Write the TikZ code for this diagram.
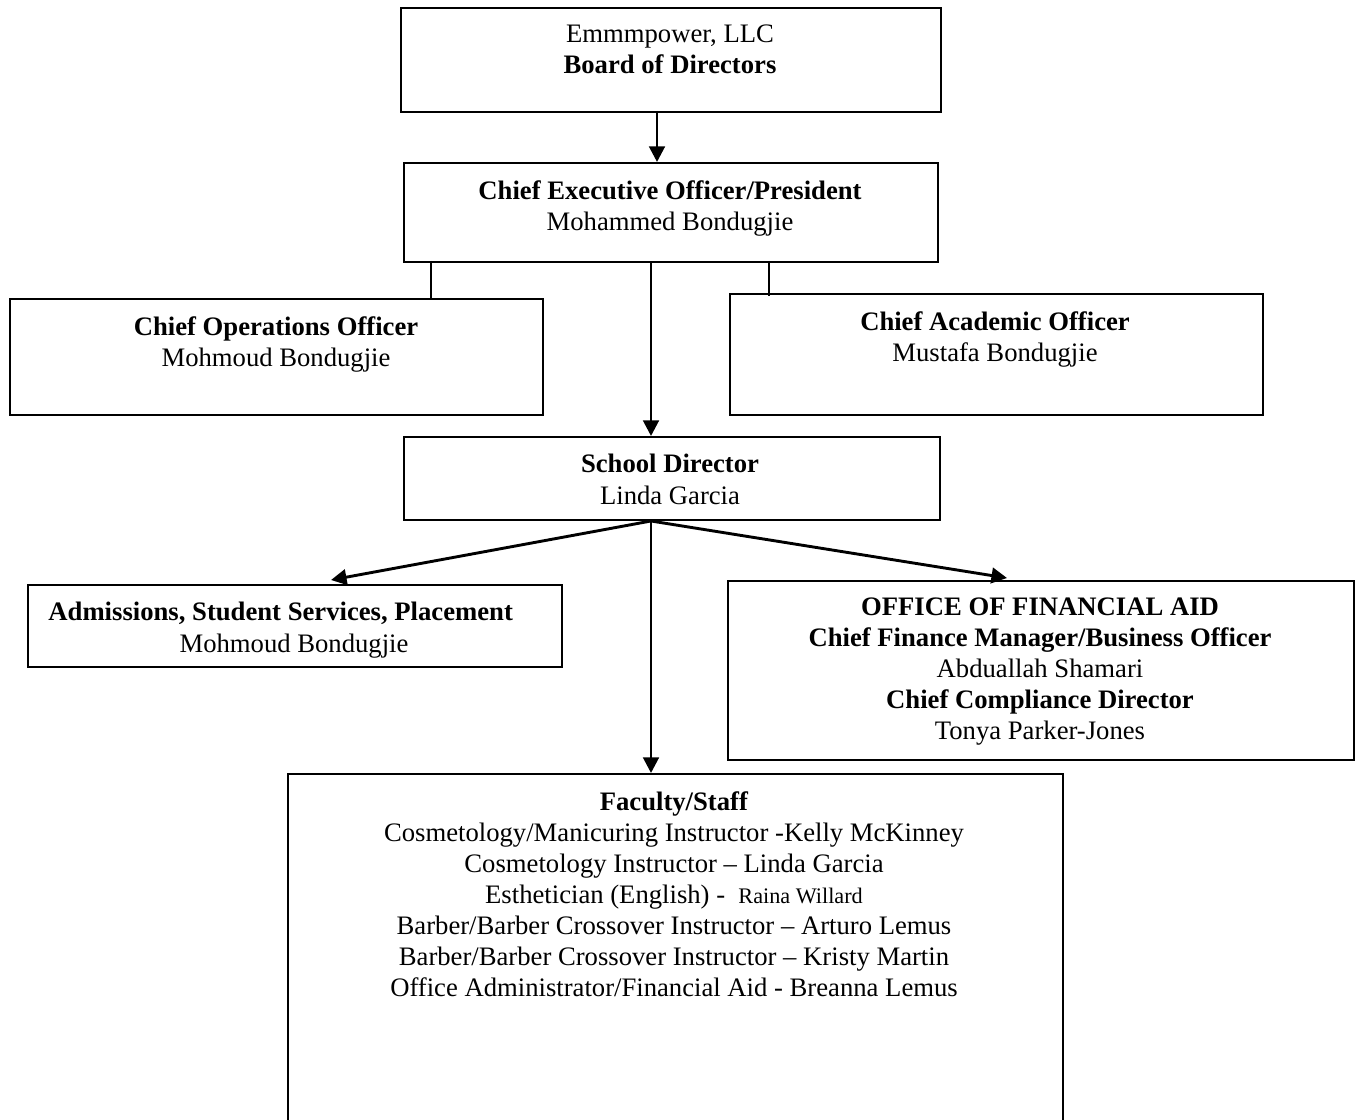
\documentclass[tikz,border=0pt]{standalone}
\usepackage{fontspec}
\setmainfont{Liberation Serif}
\usetikzlibrary{arrows.meta,positioning,calc}
\newdimen\px \px=0.45pt

\tikzset{
  box/.style={draw, line width=0.8pt, anchor=north west, inner sep=0pt},
  txt/.style={anchor=north, align=center, inner sep=0pt, font=\fontsize{12}{14}\selectfont},
  link/.style={line width=1.3pt},
  tap/.style={line width=0.7pt}
}

\begin{document}
\begin{tikzpicture}[x=0.45pt, y=-0.45pt, >={Triangle[length=7pt,width=7pt]}]
  \useasboundingbox (0,0) rectangle (1358,1120);

  % boxes
  \node[box, minimum width=540\px, minimum height=104\px] (board) at (400,7) {};
  \node[box, minimum width=534\px, minimum height=99\px] (ceo) at (403,162) {};
  \node[box, minimum width=533\px, minimum height=116\px] (coo) at (9,298) {};
  \node[box, minimum width=533\px, minimum height=121\px] (cao) at (729,293) {};
  \node[box, minimum width=536\px, minimum height=83\px] (sd) at (403,436) {};
  \node[box, minimum width=534\px, minimum height=82\px] (adm) at (27,584) {};
  \node[box, minimum width=626\px, minimum height=179\px] (fin) at (727,580) {};
  \node[box, minimum width=775\px, minimum height=360\px] (fac) at (287,773) {};

  % texts
  \node[txt] (boardtxt) at (670,24) {Emmmpower, LLC\\\textbf{Board of Directors}};
  \node[txt] (ceotxt) at (670,180) {\textbf{Chief Executive Officer/President}\\Mohammed Bondugjie};
  \node[txt] (cootxt) at (276,316) {\textbf{Chief Operations Officer}\\Mohmoud Bondugjie};
  \node[txt] (caotxt) at (995,311) {\textbf{Chief Academic Officer}\\Mustafa Bondugjie};
  \node[txt] (sdtxt) at (670,454) {\textbf{School Director}\\Linda Garcia};
  \node[txt] (admtxt) at (294,602) {\textbf{Admissions, Student Services, Placement}\hspace*{12pt}\\Mohmoud Bondugjie};
  \node[txt] (fintxt) at (1040,597) {\textbf{OFFICE OF FINANCIAL AID}\\
    \textbf{Chief Finance Manager/Business Officer}\\Abduallah Shamari\\
    \textbf{Chief Compliance Director}\\Tonya Parker-Jones};
  \node[txt] (factxt) at (674,791) {\textbf{Faculty/Staff}\\
    Cosmetology/Manicuring Instructor -Kelly McKinney\\
    Cosmetology Instructor -- Linda Garcia\\
    Esthetician (English) -\ \ {\fontsize{10}{14}\selectfont Raina Willard}\\
    Barber/Barber Crossover Instructor -- Arturo Lemus\\
    Barber/Barber Crossover Instructor -- Kristy Martin\\
    Office Administrator/Financial Aid - Breanna Lemus};

  % connectors
  \coordinate (boardtap) at (657,111);
  \draw[link,->] (boardtap) -- (boardtap |- ceo.north);
  \coordinate (cootap) at (431,261);
  \draw[tap] (cootap) -- (cootap |- coo.north);
  \coordinate (caotap) at (769,261);
  \draw[tap] (caotap) -- ([yshift=-3\px]caotap |- cao.north);
  \coordinate (ceotap) at (651,263);
  \draw[link,->] (ceotap) -- (ceotap |- sd.north);
  \coordinate (hub) at (651,521);
  \coordinate (admtip) at (331,580);
  \coordinate (fintip) at (1007,578);
  \draw[link,->] (hub) -- (admtip);
  \draw[link,->] (hub) -- (fintip);
  \draw[link,->] (hub) -- (hub |- fac.north);
\end{tikzpicture}
\end{document}
